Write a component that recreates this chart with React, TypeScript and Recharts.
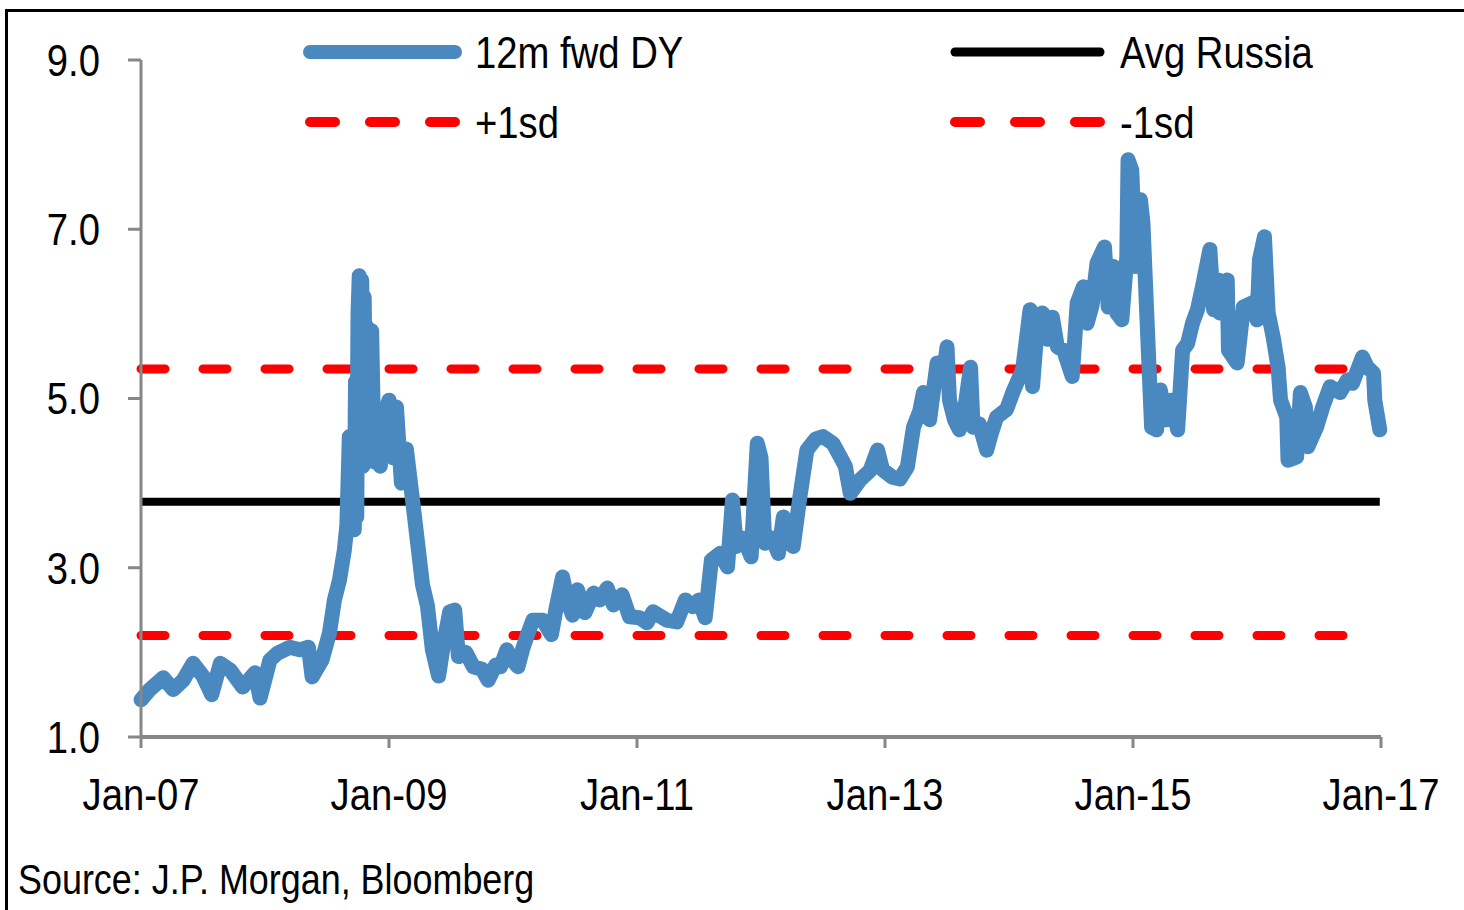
import React from 'react';
import { LineChart, Line, XAxis, YAxis } from 'recharts';

// dates as fractional years
const years = [
  2007.0, 2007.07, 2007.18, 2007.26, 2007.34, 2007.42, 2007.5, 2007.57, 2007.64, 2007.72,
  2007.82, 2007.92, 2007.96, 2008.04, 2008.1, 2008.2, 2008.28, 2008.35, 2008.38, 2008.46,
  2008.52, 2008.56, 2008.6, 2008.64, 2008.66, 2008.68, 2008.7, 2008.72, 2008.73, 2008.74,
  2008.75, 2008.76, 2008.77, 2008.78, 2008.79, 2008.8, 2008.81, 2008.82, 2008.84, 2008.86,
  2008.88, 2008.91, 2008.93, 2008.96, 2009.0,
  2009.03, 2009.06, 2009.1, 2009.14, 2009.19, 2009.23, 2009.27, 2009.31, 2009.35, 2009.4,
  2009.44, 2009.49, 2009.53, 2009.56, 2009.62, 2009.68, 2009.75, 2009.8, 2009.86, 2009.9,
  2009.95, 2010.0, 2010.04, 2010.08, 2010.11, 2010.16, 2010.24, 2010.31, 2010.35, 2010.4,
  2010.44, 2010.48, 2010.52, 2010.58, 2010.65, 2010.7, 2010.76, 2010.81, 2010.88, 2010.94,
  2011.02, 2011.08, 2011.13, 2011.24, 2011.32, 2011.39, 2011.45, 2011.5, 2011.55, 2011.6,
  2011.67, 2011.73, 2011.77, 2011.8, 2011.86, 2011.92, 2011.97, 2012.0, 2012.03, 2012.09,
  2012.14, 2012.18, 2012.22, 2012.26, 2012.31, 2012.37, 2012.44, 2012.5, 2012.58, 2012.64,
  2012.68, 2012.72, 2012.8, 2012.88, 2012.94, 2012.98, 2013.06, 2013.12, 2013.18, 2013.23,
  2013.28, 2013.31, 2013.36, 2013.42, 2013.47, 2013.5, 2013.52, 2013.56, 2013.6, 2013.65,
  2013.69, 2013.71, 2013.76, 2013.82, 2013.86, 2013.9, 2013.98, 2014.03, 2014.11, 2014.17,
  2014.19, 2014.23, 2014.27, 2014.31, 2014.35, 2014.39, 2014.44, 2014.51, 2014.55, 2014.6,
  2014.63, 2014.67, 2014.71, 2014.77, 2014.8, 2014.84, 2014.87, 2014.91, 2014.95, 2014.96,
  2014.99, 2015.02, 2015.06, 2015.08, 2015.12, 2015.15, 2015.19, 2015.22, 2015.27, 2015.31,
  2015.36, 2015.4, 2015.44, 2015.48, 2015.52, 2015.56, 2015.62, 2015.65, 2015.69, 2015.7,
  2015.76, 2015.77, 2015.84, 2015.89, 2015.96, 2016.0, 2016.02, 2016.06, 2016.09, 2016.13,
  2016.17, 2016.19, 2016.24, 2016.25, 2016.32, 2016.35, 2016.39, 2016.41, 2016.48, 2016.53,
  2016.59, 2016.67, 2016.73, 2016.77, 2016.85, 2016.89, 2016.94, 2016.95, 2016.99,
];

// 12m forward dividend yield, %
const fwdDY = [
  1.44, 1.56, 1.7, 1.56, 1.67, 1.87, 1.72, 1.5, 1.87, 1.79,
  1.59, 1.76, 1.46, 1.91, 1.99, 2.06, 2.03, 2.06, 1.71, 1.91,
  2.23, 2.62, 2.85, 3.21, 3.5, 4.55, 4.4, 3.45, 5.2, 3.6,
  6.0, 6.45, 4.3, 6.4, 4.2, 6.2, 4.6, 5.85, 4.3, 5.8,
  4.25, 4.7, 4.2, 4.8, 4.98,
  4.3, 4.9, 4.0, 4.4, 3.8, 3.3, 2.8, 2.55, 2.03, 1.72,
  2.1, 2.48, 2.5, 1.95, 2.0, 1.83, 1.8, 1.67, 1.85, 1.83,
  2.03, 1.9, 1.83, 2.05, 2.18, 2.38, 2.38, 2.21, 2.54, 2.89,
  2.6, 2.44, 2.74, 2.47, 2.7, 2.62, 2.76, 2.56, 2.68, 2.42,
  2.41, 2.35, 2.48, 2.38, 2.36, 2.62, 2.54, 2.62, 2.41, 3.09,
  3.17, 3.01, 3.8, 3.25, 3.35, 3.13, 4.47, 4.3, 3.29, 3.35,
  3.17, 3.6, 3.3, 3.25, 3.8, 4.39, 4.52, 4.55, 4.47, 4.31,
  4.2, 3.88, 4.04, 4.15, 4.39, 4.16, 4.07, 4.05, 4.19, 4.66,
  4.85, 5.07, 4.75, 5.42, 5.25, 5.61, 4.98, 4.75, 4.63, 4.95,
  5.37, 4.66, 4.7, 4.39, 4.6, 4.78, 4.87, 5.07, 5.34, 6.05,
  5.14, 5.9, 6.01, 5.7, 5.96, 5.61, 5.57, 5.26, 6.13, 6.32,
  5.89, 6.1, 6.6, 6.79, 6.08, 6.56, 6.01, 5.93, 6.67, 7.82,
  7.7, 6.56, 7.35, 7.08, 5.69, 4.66, 4.63, 5.1, 4.75, 4.98,
  4.63, 5.57, 5.65, 5.89, 6.05, 6.32, 6.76, 6.05, 6.4, 6.01,
  6.4, 5.57, 5.42, 6.08, 6.13, 5.93, 6.64, 6.91, 6.01, 5.73,
  5.37, 4.98, 4.78, 4.27, 4.31, 5.07, 4.9, 4.43, 4.66, 4.9,
  5.14, 5.07, 5.22, 5.18, 5.49, 5.37, 5.3, 4.98, 4.63,
];

const avgRussia = 3.78;
const plusSd = 5.35;
const minusSd = 2.2;

const xTicks = [2007, 2009, 2011, 2013, 2015, 2017];
const yTicks = [1, 3, 5, 7, 9];

const data = years.map((t, i) => ({
  t,
  dy: fwdDY[i],
  avg: avgRussia,
  plus: plusSd,
  minus: minusSd,
}));

// no narrow font installed, so squeeze Liberation Sans sideways
const FONT = "'Liberation Sans', Arial, sans-serif";
const SQUEEZE = 0.85;
const BLUE = '#4a88c0';
const RED = '#ff0000';
const GREY = '#878787';

const fmtX = (v: number) => `Jan-${String(v).slice(2)}`;

function XTick(props: any) {
  const { x, y, payload } = props;
  return (
    <g transform={`translate(${x},${y}) scale(${SQUEEZE},1)`}>
      <text x={0} y={0} dy="0.71em" textAnchor="middle" fill="#000" fontSize={45} fontFamily={FONT}>
        {fmtX(payload.value)}
      </text>
    </g>
  );
}

function YTick(props: any) {
  const { x, y, payload } = props;
  return (
    <g transform={`translate(${x},${y}) scale(${SQUEEZE},1)`}>
      <text x={0} y={0} dy="0.355em" textAnchor="end" fill="#000" fontSize={45} fontFamily={FONT}>
        {Number(payload.value).toFixed(1)}
      </text>
    </g>
  );
}

function LegendKey({ color, width, dash, label }: { color: string; width: number; dash?: string; label: string }) {
  return (
    <div style={{ display: 'flex', alignItems: 'center', height: 70, width: 645 }}>
      <svg width={162} height={20} style={{ display: 'block' }}>
        <line x1={8} y1={10} x2={153} y2={10} stroke={color} strokeWidth={width} strokeLinecap="round" strokeDasharray={dash} />
      </svg>
      <span
        style={{
          display: 'inline-block',
          marginLeft: 11,
          fontSize: 45,
          lineHeight: '45px',
          fontFamily: FONT,
          color: '#000',
          whiteSpace: 'nowrap',
          transform: `scaleX(${SQUEEZE})`,
          transformOrigin: 'left center',
        }}
      >
        {label}
      </span>
    </div>
  );
}

export default function App() {
  return (
    <div style={{ position: 'absolute', left: 0, top: 0, width: 1464, height: 910, overflow: 'hidden', background: '#fff' }}>
      <div style={{ position: 'absolute', left: 5, top: 9, width: 1500, height: 950, borderTop: '3px solid #000', borderLeft: '3px solid #000' }} />
      <div style={{ position: 'absolute', left: 0, top: 0 }}>
        <LineChart width={1464} height={910} data={data} margin={{ top: 60, right: 83, left: 41, bottom: 93 }}>
          <XAxis
            dataKey="t"
            type="number"
            domain={[2007, 2017]}
            ticks={xTicks}
            interval={0}
            axisLine={{ stroke: GREY, strokeWidth: 4 }}
            tickLine={{ stroke: GREY, strokeWidth: 3 }}
            tickSize={11}
            tickMargin={30}
            height={80}
            tick={<XTick />}
          />
          <YAxis
            domain={[1, 9]}
            ticks={yTicks}
            interval={0}
            axisLine={{ stroke: GREY, strokeWidth: 3 }}
            tickLine={{ stroke: GREY, strokeWidth: 3 }}
            tickSize={13}
            tickMargin={28}
            width={100}
            tick={<YTick />}
          />
          <Line dataKey="avg" stroke="#000" strokeWidth={8} dot={false} isAnimationActive={false} />
          <Line dataKey="plus" stroke={RED} strokeWidth={9} strokeDasharray="24 38" strokeLinecap="round" dot={false} isAnimationActive={false} />
          <Line dataKey="minus" stroke={RED} strokeWidth={9} strokeDasharray="24 38" strokeLinecap="round" dot={false} isAnimationActive={false} />
          <Line dataKey="dy" type="linear" stroke={BLUE} strokeWidth={15} strokeLinejoin="round" strokeLinecap="round" dot={false} isAnimationActive={false} />
        </LineChart>
      </div>
      <div style={{ position: 'absolute', left: 302, top: 17, display: 'flex', flexWrap: 'wrap', width: 1290 }}>
        <LegendKey color={BLUE} width={14} label="12m fwd DY" />
        <LegendKey color="#000" width={9} label="Avg Russia" />
        <LegendKey color={RED} width={10} dash="25 35" label="+1sd" />
        <LegendKey color={RED} width={10} dash="25 35" label="-1sd" />
      </div>
      <div
        style={{
          position: 'absolute',
          left: 18,
          top: 858,
          fontSize: 43,
          lineHeight: '43px',
          fontFamily: FONT,
          color: '#000',
          whiteSpace: 'nowrap',
          transform: 'scaleX(0.835)',
          transformOrigin: 'left center',
        }}
      >
        Source: J.P. Morgan, Bloomberg
      </div>
    </div>
  );
}
